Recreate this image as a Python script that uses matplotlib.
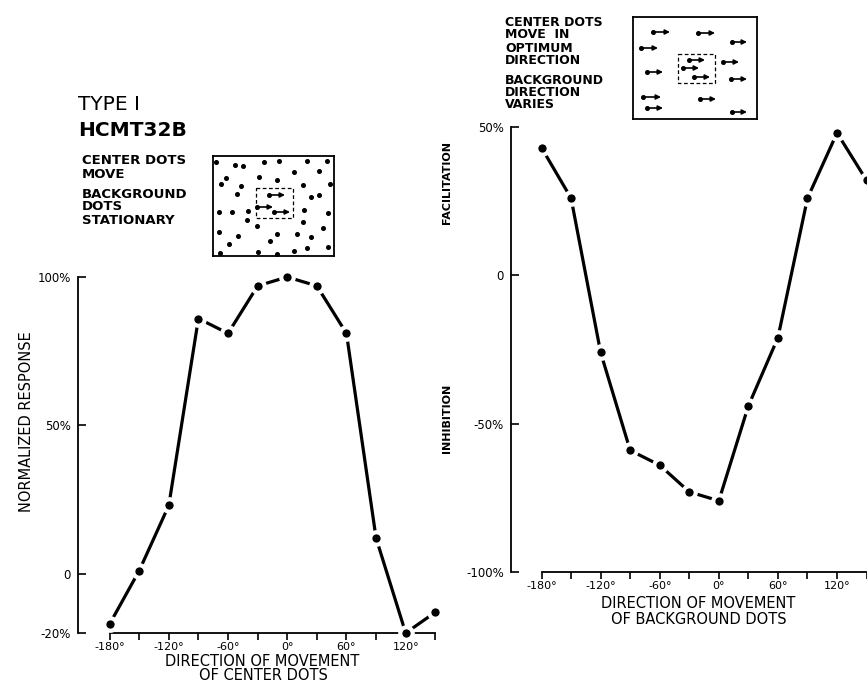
import matplotlib
matplotlib.use("Agg")
import matplotlib.pyplot as plt

W, H = 867, 683

# direction of movement (deg), shared by both panels
angles = [-180, -150, -120, -90, -60, -30, 0, 30, 60, 90, 120, 150]
# left panel: normalized response (%) when center dots move
center_resp = [-17, 1, 23, 86, 81, 97, 100, 97, 81, 12, -20, -13]
# right panel: facilitation / inhibition (%) vs background direction
background_resp = [43, 26, -26, -59, -64, -73, -76, -44, -21, 26, 48, 32]

left_yticks = [-20, 0, 50, 100]
left_ylabels = ["-20%", "0", "50%", "100%"]
right_yticks = [-100, -50, 0, 50]
right_ylabels = ["-100%", "-50%", "0", "50%"]

# schematic stimulus, left inset: stationary background dots (box units)
bg_dots_x = [3, 22, 30, 51, 66, 94, 114, 81, 106, 13, 46, 64, 8, 28, 90, 117, 24, 106,
             98, 6, 19, 35, 91, 115, 34, 90, 44, 110, 6, 25, 64, 84, 98, 57, 16, 115,
             94, 7, 45, 64, 81]
bg_dots_y = [6, 9, 10, 6, 5, 5, 5, 16, 15, 22, 21, 24, 28, 30, 29, 28, 38, 39,
             41, 56, 56, 55, 54, 57, 64, 66, 70, 72, 76, 80, 78, 78, 81, 85, 88, 91,
             92, 97, 96, 98, 95]
# moving center dots (tail x, head x, y)
ctr_x0 = [56, 44, 61]
ctr_x1 = [72, 60, 77]
ctr_y = [39, 51, 56]

# right inset: every dot moves (tail x, head x, y)
mov_x0 = [20, 65, 99, 8, 56, 90, 50, 14, 61, 98, 10, 67, 14, 99]
mov_x1 = [37, 82, 114, 25, 72, 106, 66, 30, 77, 114, 28, 83, 30, 114]
mov_y = [15, 16, 25, 31, 43, 45, 51, 55, 60, 62, 80, 82, 91, 95]


def frac(x0, y0, x1, y1):
    # pixel box (top-left origin) -> figure fraction rect
    return [x0 / W, 1 - y1 / H, (x1 - x0) / W, (y1 - y0) / H]


def style_axis(ax, xmax, yticks, ylabels):
    for s in ["top", "right"]:
        ax.spines[s].set_visible(False)
    ax.spines["left"].set_linewidth(1.3)
    ax.spines["bottom"].set_linewidth(1.3)
    ax.spines["bottom"].set_bounds(-180, xmax)
    xt = list(range(-180, 151, 30))
    ax.set_xticks(xt)
    ax.set_xticklabels([f"{v}°" if v % 60 == 0 else "" for v in xt], fontsize=8)
    ax.set_yticks(yticks)
    ax.set_yticklabels(ylabels, fontsize=8.5)
    ax.tick_params(axis="x", direction="out", length=5, width=1.2, pad=1.5)
    ax.tick_params(axis="y", direction="in", length=6, width=1.2, pad=5)


def plot_curve(ax, x, y):
    ax.plot(x, y, color="black", lw=2.3, zorder=3, clip_on=False,
            solid_capstyle="butt")
    ax.plot(x, y, "o", ms=9, mfc="black", mec="white", mew=3, zorder=4,
            clip_on=False)


fig = plt.figure(figsize=(W / 100, H / 100), dpi=100)

# ---- left panel ----
ax1 = fig.add_axes(frac(78, 277, 78 + 364 * 0.987, 633))
ax1.set_xlim(-212, 152)
ax1.set_ylim(-20, 100)
style_axis(ax1, 150, left_yticks, left_ylabels)
plot_curve(ax1, angles, center_resp)

fig.text(27 / W, 1 - 422 / H, "NORMALIZED RESPONSE", rotation=90,
         ha="center", va="center", fontsize=10.5)
fig.text(262 / W, 1 - 662 / H, "DIRECTION OF MOVEMENT",
         ha="center", va="center", fontsize=10.5)
fig.text(263 / W, 1 - 676 / H, "OF CENTER DOTS",
         ha="center", va="center", fontsize=10.5)

fig.text(78 / W, 1 - 105 / H, "TYPE I", ha="left", va="center", fontsize=14.5)
fig.text(78 / W, 1 - 130 / H, "HCMT32B", ha="left", va="center",
         fontsize=14.5, fontweight="bold")

for txt, yy in [("CENTER DOTS", 160), ("MOVE", 175), ("BACKGROUND", 195),
                ("DOTS", 207), ("STATIONARY", 220)]:
    fig.text(82 / W, 1 - yy / H, txt, ha="left", va="center",
             fontsize=9.5, fontweight="bold")

ins1 = fig.add_axes(frac(213, 156, 334, 256))
ins1.set_xlim(0, 121)
ins1.set_ylim(100, 0)
ins1.set_xticks([])
ins1.set_yticks([])
for s in ins1.spines.values():
    s.set_linewidth(1.3)
ins1.plot(bg_dots_x, bg_dots_y, "o", color="black", ms=2.6)
ins1.plot([43, 80, 80, 43, 43], [32, 32, 62, 62, 32], color="black", lw=0.9,
          ls=(0, (3, 2)))
for a, b, c in zip(ctr_x0, ctr_x1, ctr_y):
    ins1.plot(a, c, "o", color="black", ms=2.6)
    ins1.annotate("", xy=(b, c), xytext=(a, c),
                  arrowprops=dict(arrowstyle="-|>", color="black", lw=1.2,
                                  mutation_scale=7, shrinkA=0, shrinkB=0))

# ---- right panel ----
ax2 = fig.add_axes(frac(511, 127, 511 + 391 * 0.985, 572))
ax2.set_xlim(-211, 180)
ax2.set_ylim(-100, 50)
style_axis(ax2, 180, right_yticks, right_ylabels)
plot_curve(ax2, angles, background_resp)

fig.text(447 / W, 1 - 183 / H, "FACILITATION", rotation=90, ha="center",
         va="center", fontsize=8, fontweight="bold")
fig.text(447 / W, 1 - 418 / H, "INHIBITION", rotation=90, ha="center",
         va="center", fontsize=8, fontweight="bold")
fig.text(698 / W, 1 - 603 / H, "DIRECTION OF MOVEMENT",
         ha="center", va="center", fontsize=10.5)
fig.text(699 / W, 1 - 619 / H, "OF BACKGROUND DOTS",
         ha="center", va="center", fontsize=10.5)

for txt, yy in [("CENTER DOTS", 22), ("MOVE  IN", 35), ("OPTIMUM", 48),
                ("DIRECTION", 61), ("BACKGROUND", 80), ("DIRECTION", 92),
                ("VARIES", 105)]:
    fig.text(505 / W, 1 - yy / H, txt, ha="left", va="center",
             fontsize=9, fontweight="bold")

ins2 = fig.add_axes(frac(633, 17, 757, 119))
ins2.set_xlim(0, 124)
ins2.set_ylim(102, 0)
ins2.set_xticks([])
ins2.set_yticks([])
for s in ins2.spines.values():
    s.set_linewidth(1.3)
ins2.plot([45, 82, 82, 45, 45], [37, 37, 66, 66, 37], color="black", lw=0.9,
          ls=(0, (3, 2)))
for a, b, c in zip(mov_x0, mov_x1, mov_y):
    ins2.plot(a, c, "o", color="black", ms=2.6)
    ins2.annotate("", xy=(b, c), xytext=(a, c),
                  arrowprops=dict(arrowstyle="-|>", color="black", lw=1.2,
                                  mutation_scale=7, shrinkA=0, shrinkB=0))

fig.savefig("out.png", dpi=100)
